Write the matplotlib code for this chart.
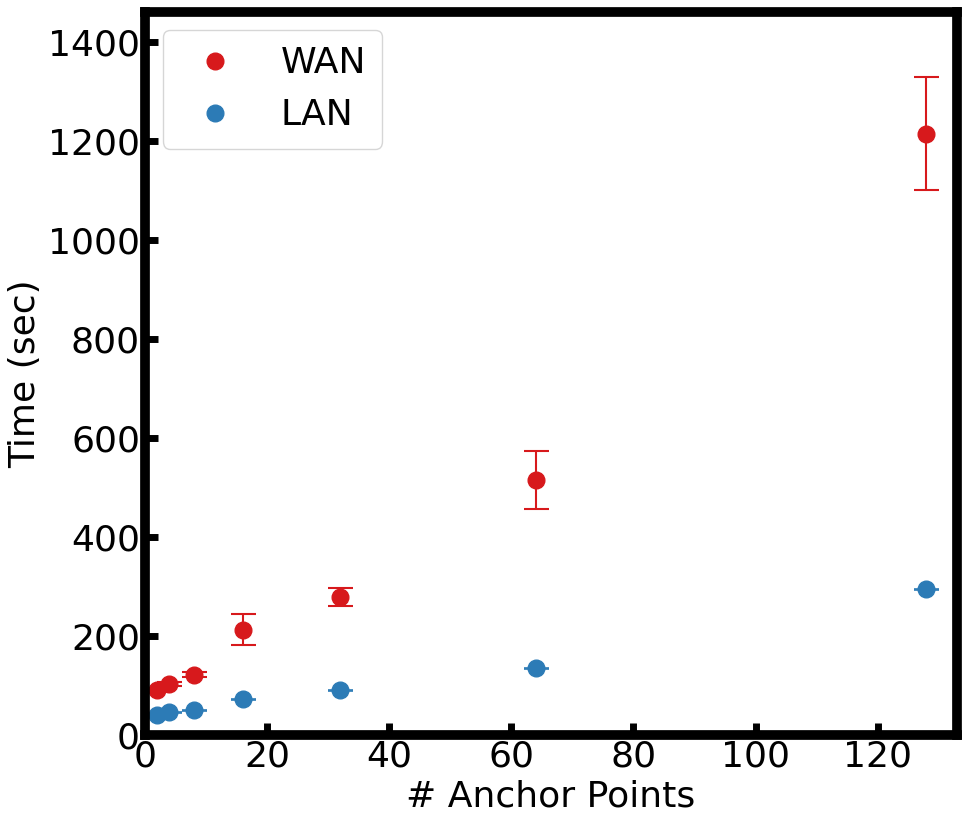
import numpy as np
import matplotlib
matplotlib.use('Agg')
import matplotlib.pyplot as plt

anchors = [2, 4, 8, 16, 32, 64, 128]
wan_time = [90, 103, 122, 213, 278, 515, 1214]
wan_err = [4, 5, 5, 32, 18, 58, 114]
lan_time = [40, 46, 50, 72, 90, 135, 294]
lan_err = [1, 1, 1, 1, 1, 1, 1]

red = '#d7191c'
blue = '#2c7bb6'

fig = plt.figure(figsize=(9.69, 8.24), dpi=100)
ax = fig.add_axes([0.1496, 0.108, 0.838, 0.8774])

ax.errorbar(anchors, wan_time, yerr=wan_err, fmt='o', color=red, ms=12,
            capsize=9, elinewidth=1.5, capthick=1.5, label='WAN')
ax.errorbar(anchors, lan_time, yerr=lan_err, fmt='o', color=blue, ms=12,
            capsize=9, elinewidth=1.2, capthick=1.2, label='LAN')

ax.set_xlim(0, 133)
ax.set_ylim(0, 1460)
ax.set_xticks([0, 20, 40, 60, 80, 100, 120])
ax.set_yticks([0, 200, 400, 600, 800, 1000, 1200, 1400])
ax.set_xlabel('# Anchor Points', fontsize=26)
ax.set_ylabel('Time (sec)', fontsize=26)
ax.tick_params(direction='in', length=9, width=5, labelsize=26)
for s in ax.spines.values():
    s.set_linewidth(7)

h, l = ax.get_legend_handles_labels()
h = [x[0] for x in h]
ax.legend(h, l, loc='upper left', fontsize=26, numpoints=1,
          handletextpad=0.8, borderpad=0.45, bbox_to_anchor=(0.0, 1.0))

fig.savefig('out.png', dpi=100)
